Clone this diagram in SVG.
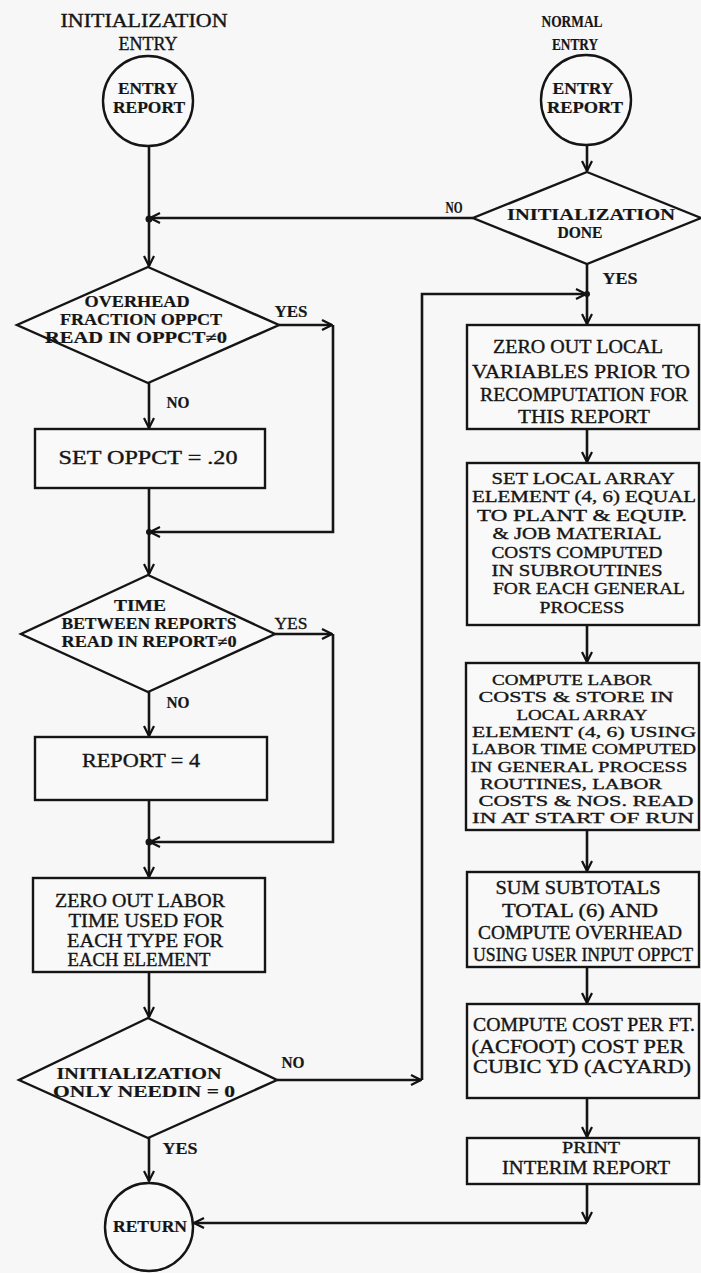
<svg xmlns="http://www.w3.org/2000/svg" width="701" height="1273" viewBox="0 0 701 1273">
<defs>
<marker id="arr" viewBox="0 0 12 12" refX="11" refY="6" markerWidth="12" markerHeight="12" markerUnits="userSpaceOnUse" orient="auto">
<path d="M1,1 L11,6 L1,11" fill="none" stroke="#111" stroke-width="2.2"/>
</marker>
</defs>
<style>
.bg{fill:#f7f7f7}
.shape{fill:#f9f9f9;stroke:#151515;stroke-width:2.4}
.line{fill:none;stroke:#151515;stroke-width:2.6}
.t{font-family:"Liberation Serif","Times New Roman",serif;font-size:18px;fill:#151515;stroke:#151515;stroke-width:0.35;text-anchor:middle}
.b{font-weight:bold;stroke-width:0.2}
.d{font-size:16px}
.m{font-size:16.5px}
.n{font-size:15.5px}
.dot{fill:#151515}
</style>
<rect class="bg" x="0" y="0" width="701" height="1273"/>

<g id="labels">
<text class="t" x="144" y="27" textLength="167" lengthAdjust="spacingAndGlyphs">INITIALIZATION</text>
<text class="t" x="148" y="50" textLength="59" lengthAdjust="spacingAndGlyphs">ENTRY</text>
<text class="t b d" x="572" y="27" textLength="61" lengthAdjust="spacingAndGlyphs">NORMAL</text>
<text class="t b d" x="575" y="50" textLength="46" lengthAdjust="spacingAndGlyphs">ENTRY</text>
<text class="t b d" x="454" y="213" textLength="17" lengthAdjust="spacingAndGlyphs">NO</text>
<text class="t b d" x="620" y="284" textLength="35" lengthAdjust="spacingAndGlyphs">YES</text>
<text class="t b d" x="291" y="317" textLength="33" lengthAdjust="spacingAndGlyphs">YES</text>
<text class="t b d" x="178" y="408" textLength="23" lengthAdjust="spacingAndGlyphs">NO</text>
<text class="t d" x="291" y="629" textLength="33" lengthAdjust="spacingAndGlyphs">YES</text>
<text class="t b d" x="178" y="708" textLength="23" lengthAdjust="spacingAndGlyphs">NO</text>
<text class="t b d" x="293" y="1068" textLength="23" lengthAdjust="spacingAndGlyphs">NO</text>
<text class="t b d" x="180" y="1154" textLength="35" lengthAdjust="spacingAndGlyphs">YES</text>
</g>

<g id="connectors">
<path class="line" d="M149,146 V266" marker-end="url(#arr)"/>
<path class="line" d="M473,218 H150" marker-end="url(#arr)"/>
<path class="line" d="M587,145 V171" marker-end="url(#arr)"/>
<path class="line" d="M587,264 V324" marker-end="url(#arr)"/>
<path class="line" d="M277,1080 H421" marker-end="url(#arr)"/>
<path class="line" d="M422,1080 V294 H586" marker-end="url(#arr)"/>
<path class="line" d="M149,383 V428" marker-end="url(#arr)"/>
<path class="line" d="M279,325 H332" marker-end="url(#arr)"/>
<path class="line" d="M333,325 V532 H150" marker-end="url(#arr)"/>
<path class="line" d="M149,488 V574" marker-end="url(#arr)"/>
<path class="line" d="M275,634 H332" marker-end="url(#arr)"/>
<path class="line" d="M333,634 V842 H150" marker-end="url(#arr)"/>
<path class="line" d="M149,692 V736" marker-end="url(#arr)"/>
<path class="line" d="M149,800 V877" marker-end="url(#arr)"/>
<path class="line" d="M149,972 V1017" marker-end="url(#arr)"/>
<path class="line" d="M149,1138 V1181" marker-end="url(#arr)"/>
<path class="line" d="M587,429 V462" marker-end="url(#arr)"/>
<path class="line" d="M587,625 V662" marker-end="url(#arr)"/>
<path class="line" d="M587,830 V871" marker-end="url(#arr)"/>
<path class="line" d="M587,967 V1003" marker-end="url(#arr)"/>
<path class="line" d="M587,1098 V1137" marker-end="url(#arr)"/>
<path class="line" d="M587,1184 V1222" marker-end="url(#arr)"/>
<path class="line" d="M587,1223 H194" marker-end="url(#arr)"/>
<circle class="dot" cx="149" cy="219" r="3.5"/>
<circle class="dot" cx="149" cy="532" r="3"/>
<circle class="dot" cx="149" cy="842" r="3.5"/>
<circle class="dot" cx="587" cy="294" r="3"/>
</g>

<g id="entry-init">
<circle class="shape" cx="148" cy="101" r="45"/>
<text class="t b d" x="148" y="94" textLength="60" lengthAdjust="spacingAndGlyphs">ENTRY</text>
<text class="t b d" x="149" y="113" textLength="72" lengthAdjust="spacingAndGlyphs">REPORT</text>
</g>

<g id="entry-normal">
<circle class="shape" cx="586" cy="100" r="45"/>
<text class="t b d" x="583" y="94" textLength="61" lengthAdjust="spacingAndGlyphs">ENTRY</text>
<text class="t b d" x="585" y="113" textLength="76" lengthAdjust="spacingAndGlyphs">REPORT</text>
</g>

<g id="dec-init-done">
<polygon class="shape" points="587,172 701,218 587,264 473,218"/>
<text class="t b d" x="591" y="220" textLength="168" lengthAdjust="spacingAndGlyphs">INITIALIZATION</text>
<text class="t b d" x="580" y="238" textLength="45" lengthAdjust="spacingAndGlyphs">DONE</text>
</g>

<g id="dec-overhead">
<polygon class="shape" points="148,267 279,325 148,383 17,325"/>
<text class="t b d" x="137" y="307" textLength="105" lengthAdjust="spacingAndGlyphs">OVERHEAD</text>
<text class="t b d" x="141" y="325" textLength="162" lengthAdjust="spacingAndGlyphs">FRACTION OPPCT</text>
<text class="t b d" x="136" y="343" textLength="182" lengthAdjust="spacingAndGlyphs">READ IN OPPCT≠0</text>
</g>

<g id="box-set-oppct">
<rect class="shape" x="35" y="429" width="230" height="59"/>
<text class="t" x="148" y="464" textLength="179" lengthAdjust="spacingAndGlyphs">SET OPPCT = .20</text>
</g>

<g id="dec-time">
<polygon class="shape" points="148,575 275,634 148,692 21,634"/>
<text class="t b d" x="140" y="611" textLength="52" lengthAdjust="spacingAndGlyphs">TIME</text>
<text class="t b d" x="149" y="629" textLength="175" lengthAdjust="spacingAndGlyphs">BETWEEN REPORTS</text>
<text class="t b d" x="149" y="647" textLength="175" lengthAdjust="spacingAndGlyphs">READ IN REPORT≠0</text>
</g>

<g id="box-report4">
<rect class="shape" x="35" y="737" width="232" height="63"/>
<text class="t" x="141" y="767" textLength="118" lengthAdjust="spacingAndGlyphs">REPORT = 4</text>
</g>

<g id="box-zero-labor">
<rect class="shape" x="33" y="878" width="232" height="94"/>
<text class="t" x="140" y="907" textLength="170" lengthAdjust="spacingAndGlyphs">ZERO OUT LABOR</text>
<text class="t" x="146" y="927" textLength="155" lengthAdjust="spacingAndGlyphs">TIME USED FOR</text>
<text class="t" x="145" y="947" textLength="156" lengthAdjust="spacingAndGlyphs">EACH TYPE FOR</text>
<text class="t" x="139" y="966" textLength="143" lengthAdjust="spacingAndGlyphs">EACH ELEMENT</text>
</g>

<g id="dec-init-only">
<polygon class="shape" points="148,1018 277,1080 148,1138 19,1080"/>
<text class="t b d" x="139" y="1079" textLength="165" lengthAdjust="spacingAndGlyphs">INITIALIZATION</text>
<text class="t b d" x="144" y="1097" textLength="182" lengthAdjust="spacingAndGlyphs">ONLY NEEDIN = 0</text>
</g>

<g id="return">
<circle class="shape" cx="149" cy="1227" r="44"/>
<text class="t b d" x="150" y="1232" textLength="74" lengthAdjust="spacingAndGlyphs">RETURN</text>
</g>

<g id="box-zero-local">
<rect class="shape" x="467" y="325" width="232" height="104"/>
<text class="t" x="578" y="353" textLength="170" lengthAdjust="spacingAndGlyphs">ZERO OUT LOCAL</text>
<text class="t" x="581" y="378" textLength="218" lengthAdjust="spacingAndGlyphs">VARIABLES PRIOR TO</text>
<text class="t" x="584" y="401" textLength="208" lengthAdjust="spacingAndGlyphs">RECOMPUTATION FOR</text>
<text class="t" x="584" y="423" textLength="132" lengthAdjust="spacingAndGlyphs">THIS REPORT</text>
</g>

<g id="box-set-local">
<rect class="shape" x="467" y="463" width="232" height="162"/>
<text class="t m" x="583" y="484" textLength="183" lengthAdjust="spacingAndGlyphs">SET LOCAL ARRAY</text>
<text class="t m" x="584" y="502" textLength="224" lengthAdjust="spacingAndGlyphs">ELEMENT (4, 6) EQUAL</text>
<text class="t m" x="582" y="521" textLength="210" lengthAdjust="spacingAndGlyphs">TO PLANT &amp; EQUIP.</text>
<text class="t m" x="577" y="539" textLength="169" lengthAdjust="spacingAndGlyphs">&amp; JOB MATERIAL</text>
<text class="t m" x="577" y="558" textLength="171" lengthAdjust="spacingAndGlyphs">COSTS COMPUTED</text>
<text class="t m" x="577" y="576" textLength="171" lengthAdjust="spacingAndGlyphs">IN SUBROUTINES</text>
<text class="t m" x="589" y="594" textLength="192" lengthAdjust="spacingAndGlyphs">FOR EACH GENERAL</text>
<text class="t m" x="582" y="613" textLength="85" lengthAdjust="spacingAndGlyphs">PROCESS</text>
</g>

<g id="box-labor">
<rect class="shape" x="466" y="663" width="233" height="167"/>
<text class="t n" x="572" y="685" textLength="160" lengthAdjust="spacingAndGlyphs">COMPUTE LABOR</text>
<text class="t n" x="576" y="702" textLength="195" lengthAdjust="spacingAndGlyphs">COSTS &amp; STORE IN</text>
<text class="t n" x="582" y="720" textLength="131" lengthAdjust="spacingAndGlyphs">LOCAL ARRAY</text>
<text class="t n" x="584" y="737" textLength="224" lengthAdjust="spacingAndGlyphs">ELEMENT (4, 6) USING</text>
<text class="t n" x="584" y="754" textLength="224" lengthAdjust="spacingAndGlyphs">LABOR TIME COMPUTED</text>
<text class="t n" x="579" y="772" textLength="217" lengthAdjust="spacingAndGlyphs">IN GENERAL PROCESS</text>
<text class="t n" x="571" y="789" textLength="182" lengthAdjust="spacingAndGlyphs">ROUTINES, LABOR</text>
<text class="t n" x="586" y="806" textLength="215" lengthAdjust="spacingAndGlyphs">COSTS &amp; NOS. READ</text>
<text class="t n" x="583" y="823" textLength="222" lengthAdjust="spacingAndGlyphs">IN AT START OF RUN</text>
</g>

<g id="box-sum">
<rect class="shape" x="467" y="872" width="232" height="95"/>
<text class="t" x="578" y="894" textLength="165" lengthAdjust="spacingAndGlyphs">SUM SUBTOTALS</text>
<text class="t" x="580" y="917" textLength="156" lengthAdjust="spacingAndGlyphs">TOTAL (6) AND</text>
<text class="t" x="580" y="939" textLength="204" lengthAdjust="spacingAndGlyphs">COMPUTE OVERHEAD</text>
<text class="t" x="583" y="961" textLength="220" lengthAdjust="spacingAndGlyphs">USING USER INPUT OPPCT</text>
</g>

<g id="box-cost">
<rect class="shape" x="467" y="1004" width="232" height="94"/>
<text class="t" x="584" y="1031" textLength="222" lengthAdjust="spacingAndGlyphs">COMPUTE COST PER FT.</text>
<text class="t" x="578" y="1053" textLength="213" lengthAdjust="spacingAndGlyphs">(ACFOOT) COST PER</text>
<text class="t" x="582" y="1073" textLength="218" lengthAdjust="spacingAndGlyphs">CUBIC YD (ACYARD)</text>
</g>

<g id="box-print">
<rect class="shape" x="467" y="1138" width="232" height="46"/>
<text class="t m" x="591" y="1153" textLength="58" lengthAdjust="spacingAndGlyphs">PRINT</text>
<text class="t" x="586" y="1174" textLength="168" lengthAdjust="spacingAndGlyphs">INTERIM REPORT</text>
</g>
</svg>
